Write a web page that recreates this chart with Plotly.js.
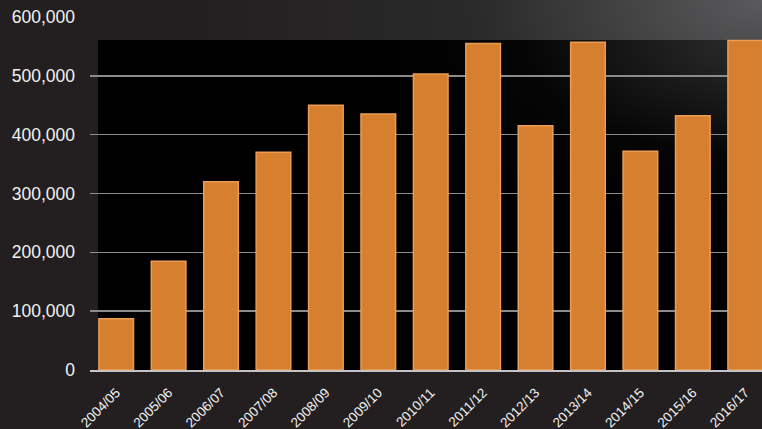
<!DOCTYPE html>
<html><head><meta charset="utf-8">
<script src="https://cdn.plot.ly/plotly-3.0.1.min.js"></script>
<style>html,body{margin:0;padding:0;background:#231f20;}#chart{width:762px;height:429px;}</style>
</head><body><div id="chart"></div>
<script>
const categories = ["2004/05","2005/06","2006/07","2007/08","2008/09","2009/10","2010/11","2011/12","2012/13","2013/14","2014/15","2015/16","2016/17"];
const values = [87000,185000,320000,370000,450000,435000,503000,555000,415000,557000,372000,432000,560000];
const yTicks = [0,100000,200000,300000,400000,500000,600000];
const yTickLabels = ["0","100,000","200,000","300,000","400,000","500,000","600,000"];

const bgSvg = '<svg xmlns="http://www.w3.org/2000/svg" width="762" height="429"><defs>' +
 '<radialGradient id="g" cx="1" cy="0" r="0.75"><stop offset="0" stop-color="#5a5a5c"/><stop offset="0.5" stop-color="#2a2a2b"/><stop offset="1" stop-color="#231f20"/></radialGradient>' +
 '<radialGradient id="b" cx="1" cy="0" r="0.6"><stop offset="0" stop-color="#2e2e30"/><stop offset="0.6" stop-color="#050505"/><stop offset="1" stop-color="#000000"/></radialGradient>' +
 '</defs><rect width="762" height="429" fill="#231f20"/><rect width="762" height="429" fill="url(#g)"/>' +
 '<rect x="98" y="40" width="664" height="330" fill="url(#b)"/></svg>';
const bgUri = 'data:image/svg+xml;base64,' + btoa(bgSvg);

const trace = {
  type: 'bar', x: categories, y: values,
  marker: {color: '#d67f2e', line: {color: '#eb9d55', width: 1.5}},
  width: 0.66, hoverinfo: 'none'
};
const layout = {
  width: 762, height: 429,
  margin: {l: 90, r: 0, t: 17, b: 59},
  paper_bgcolor: '#231f20', plot_bgcolor: 'rgba(0,0,0,0)',
  images: [{source: bgUri, xref: 'paper', yref: 'paper', x: -90/672, y: 1 + 17/353, sizex: 762/672, sizey: 429/353, xanchor: 'left', yanchor: 'top', sizing: 'stretch', layer: 'below'}],
  showlegend: false,
  font: {family: 'Liberation Sans, Arial, sans-serif', color: '#f0f0f0'},
  xaxis: {type: 'category', range: [-0.5, 12.32], tickangle: -45, tickfont: {size: 13.5, color: '#f2f2f2'}, ticklabelstandoff: 8, showgrid: false, showline: true, linecolor: '#c4c4c4', linewidth: 1.5, ticks: '', fixedrange: true, automargin: false},
  yaxis: {range: [0, 600000], tickvals: yTicks, ticktext: yTickLabels, tickfont: {size: 17.5, color: '#f2f2f2'}, ticklabelstandoff: 14, showgrid: true, gridcolor: '#8c8c8c', gridwidth: 1.5, zeroline: false, ticks: '', fixedrange: true}
};
Plotly.newPlot('chart', [trace], layout, {displayModeBar: false, staticPlot: true});
</script></body></html>
